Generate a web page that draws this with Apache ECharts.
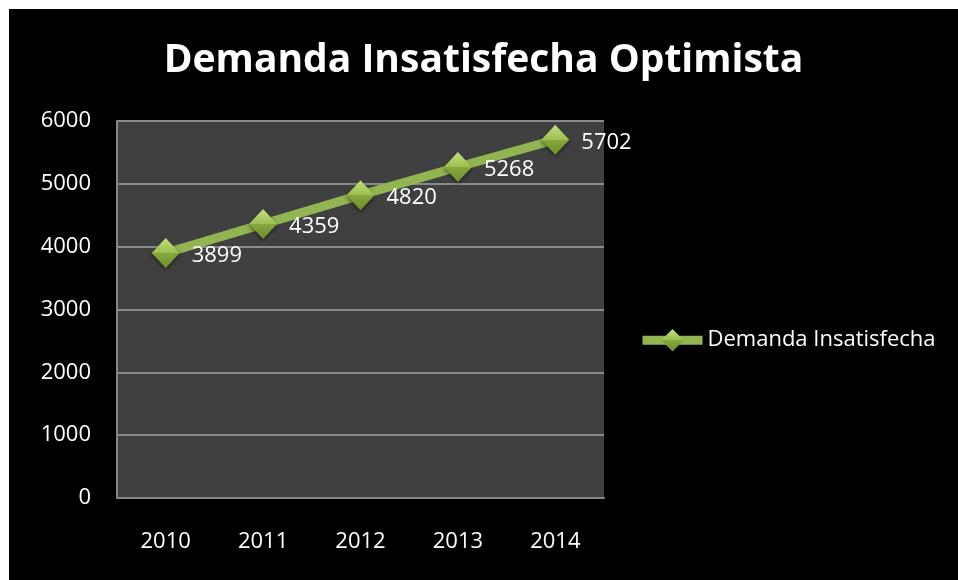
<!DOCTYPE html>
<html><head><meta charset="utf-8">
<script src="https://cdn.jsdelivr.net/npm/echarts@6/dist/echarts.min.js"></script>
<style>
html,body{margin:0;padding:0;background:#fff;width:958px;height:580px;overflow:hidden}
#c{position:absolute;left:9px;top:9px;width:949px;height:571px;background:#000}
</style></head>
<body><div id="c"></div>
<script>
const categories = ['2010','2011','2012','2013','2014'];
const values = [3899, 4359, 4820, 5268, 5702];
const seriesName = 'Demanda Insatisfecha';
const titleText = 'Demanda Insatisfecha Optimista';

const chart = echarts.init(document.getElementById('c'), null, {renderer:'canvas'});
const font = '"Open Sans", sans-serif';
const markerColor = new echarts.graphic.LinearGradient(0,0,0,1,[
  {offset:0,color:'#c3df7e'},{offset:0.5,color:'#9cbf4f'},{offset:0.5,color:'#86a83d'},{offset:1,color:'#6f8f2c'}]);
chart.setOption({
  backgroundColor:'#000',
  animation:false,
  title:{text:titleText,left:'center',top:27,
    textStyle:{color:'#fff',fontSize:39,fontWeight:'bold',fontFamily:font}},
  grid:{left:108,right:354,top:112,bottom:82,show:true,backgroundColor:'#404040',borderWidth:0},
  legend:{data:[{name:seriesName}],left:624,top:315,orient:'vertical',
    itemWidth:60,itemHeight:28,itemGap:10,
    lineStyle:{width:9,color:'#92b552'},
    textStyle:{color:'#fff',fontSize:22,fontFamily:font}},
  xAxis:{type:'category',data:categories,boundaryGap:true,
    axisLine:{lineStyle:{color:'#868686',width:2}},axisTick:{show:false},
    axisLabel:{color:'#fff',fontSize:22,fontFamily:font,margin:33}},
  yAxis:{type:'value',min:0,max:6000,interval:1000,
    axisLine:{show:true,lineStyle:{color:'#868686',width:2}},axisTick:{show:false},
    splitLine:{lineStyle:{color:'#8a8a8a',width:2}},
    axisLabel:{color:'#fff',fontSize:22,fontFamily:font,margin:26,formatter:(v)=>String(v)}},
  series:[{name:seriesName,type:'line',data:values,
    lineStyle:{color:'#92b552',width:9},
    symbol:'diamond',symbolSize:[28,30],
    itemStyle:{color:markerColor,shadowColor:'rgba(0,0,0,0.5)',shadowBlur:4,shadowOffsetY:2},
    label:{show:true,position:'right',distance:12,offset:[0,3],color:'#fff',fontSize:22,fontFamily:font}}]
});
</script></body></html>
